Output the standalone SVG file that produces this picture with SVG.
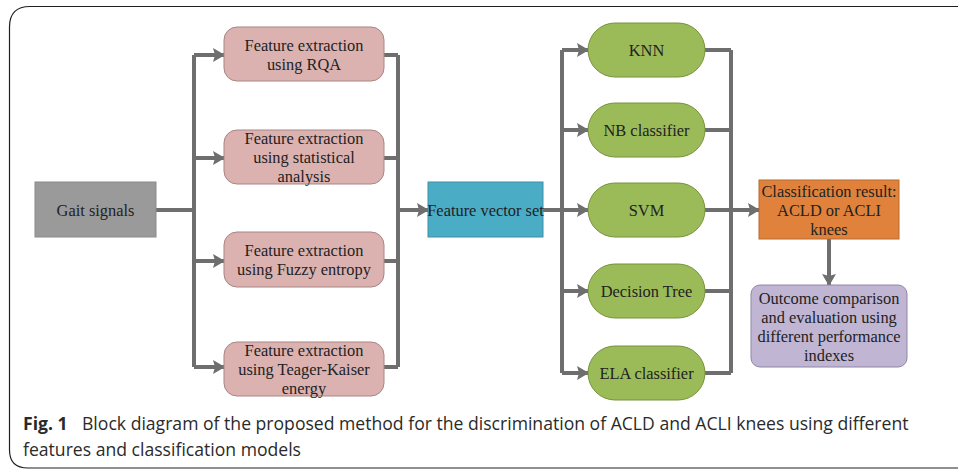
<svg xmlns="http://www.w3.org/2000/svg" width="958" height="469" viewBox="0 0 958 469">
<defs>
<marker id="ah" markerWidth="12" markerHeight="14" refX="11" refY="7" orient="auto" markerUnits="userSpaceOnUse">
<path d="M0,0 L12,7 L0,14 L2,7 Z" fill="#6e6e6e"/>
</marker>
<style>
.t{font-family:"Liberation Serif","Times New Roman",serif;font-size:16.4px;fill:#222;text-anchor:middle}
.c{fill:none;stroke:#6e6e6e;stroke-width:4}
.pink{fill:#dcb2b1;stroke:#a88584;stroke-width:1}
.green{fill:#9bbb59;stroke:#76923c;stroke-width:1}
.cap{font-family:"Open Sans","Noto Sans",sans-serif;font-size:17.6px;fill:#2a2a2a}
</style>
</defs>
<rect width="958" height="469" fill="#fff"/>
<path d="M960,6.5 H30 Q9.5,6.5 9.5,27 V450 Q9.5,468 28,468 H960" fill="none" stroke="#231f20" stroke-width="1.2"/>

<g id="connectors">
<path class="c" d="M156,210 H194"/>
<path class="c" d="M194,55 V367"/>
<path class="c" d="M194,55 H224" marker-end="url(#ah)"/>
<path class="c" d="M194,158 H224" marker-end="url(#ah)"/>
<path class="c" d="M194,261 H224" marker-end="url(#ah)"/>
<path class="c" d="M194,367 H224" marker-end="url(#ah)"/>
<path class="c" d="M384,55 H398 M384,158 H398 M384,261 H398 M384,367 H398"/>
<path class="c" d="M398,55 V367"/>
<path class="c" d="M398,210 H428" marker-end="url(#ah)"/>
<path class="c" d="M543,210 H562"/>
<path class="c" d="M562,50 V373"/>
<path class="c" d="M562,50 H588" marker-end="url(#ah)"/>
<path class="c" d="M562,130 H588" marker-end="url(#ah)"/>
<path class="c" d="M562,210 H588" marker-end="url(#ah)"/>
<path class="c" d="M562,291 H588" marker-end="url(#ah)"/>
<path class="c" d="M562,373 H588" marker-end="url(#ah)"/>
<path class="c" d="M705,50 H731 M705,130 H731 M705,210 H731 M705,291 H731 M705,373 H731"/>
<path class="c" d="M731,50 V373"/>
<path class="c" d="M731,210 H759" marker-end="url(#ah)"/>
<path class="c" d="M829,239 V285" marker-end="url(#ah)"/>
</g>

<g id="gait">
<rect x="35" y="182" width="121" height="55" fill="#9a9a9a" stroke="#8a8a8a"/>
<text class="t" x="95.5" y="215.5">Gait signals</text>
</g>

<g id="fe-rqa">
<rect class="pink" x="224" y="27" width="160" height="54" rx="13"/>
<text class="t" x="304" y="51">Feature extraction</text>
<text class="t" x="304" y="70">using RQA</text>
</g>
<g id="fe-stat">
<rect class="pink" x="224" y="130" width="160" height="54" rx="13"/>
<text class="t" x="304" y="144">Feature extraction</text>
<text class="t" x="304" y="163">using statistical</text>
<text class="t" x="304" y="182">analysis</text>
</g>
<g id="fe-fuzzy">
<rect class="pink" x="224" y="232" width="160" height="55" rx="13"/>
<text class="t" x="304" y="256">Feature extraction</text>
<text class="t" x="304" y="275">using Fuzzy entropy</text>
</g>
<g id="fe-tk">
<rect class="pink" x="224" y="342" width="160" height="54" rx="13"/>
<text class="t" x="304" y="356">Feature extraction</text>
<text class="t" x="304" y="375">using Teager-Kaiser</text>
<text class="t" x="304" y="394">energy</text>
</g>

<g id="fvs">
<rect x="428" y="182" width="115" height="55" fill="#4bacc6" stroke="#3d8fa6"/>
<text class="t" x="485.5" y="215.5">Feature vector set</text>
</g>

<g id="knn">
<rect class="green" x="588" y="23" width="117" height="54" rx="27"/>
<text class="t" x="646.5" y="56">KNN</text>
</g>
<g id="nb">
<rect class="green" x="588" y="103" width="117" height="54" rx="27"/>
<text class="t" x="646.5" y="136">NB classifier</text>
</g>
<g id="svm">
<rect class="green" x="588" y="183" width="117" height="54" rx="27"/>
<text class="t" x="646.5" y="216">SVM</text>
</g>
<g id="dt">
<rect class="green" x="588" y="264" width="117" height="54" rx="27"/>
<text class="t" x="646.5" y="297">Decision Tree</text>
</g>
<g id="ela">
<rect class="green" x="588" y="346" width="117" height="54" rx="27"/>
<text class="t" x="646.5" y="379">ELA classifier</text>
</g>

<g id="result">
<rect x="759" y="180" width="140" height="59" fill="#e0823c" stroke="#b86a30"/>
<text class="t" x="829" y="197">Classification result:</text>
<text class="t" x="829" y="216">ACLD or ACLI</text>
<text class="t" x="829" y="235">knees</text>
</g>

<g id="outcome">
<rect x="751" y="285" width="156" height="82" rx="9" fill="#c0b6d4" stroke="#8e86a6"/>
<text class="t" x="829" y="304">Outcome comparison</text>
<text class="t" x="829" y="323">and evaluation using</text>
<text class="t" x="829" y="342">different performance</text>
<text class="t" x="829" y="361">indexes</text>
</g>

<g id="caption">
<text class="cap" x="23" y="430"><tspan font-weight="bold">Fig. 1</tspan><tspan x="82">Block diagram of the proposed method for the discrimination of ACLD and ACLI knees using different</tspan></text>
<text class="cap" x="23" y="456">features and classification models</text>
</g>
</svg>
